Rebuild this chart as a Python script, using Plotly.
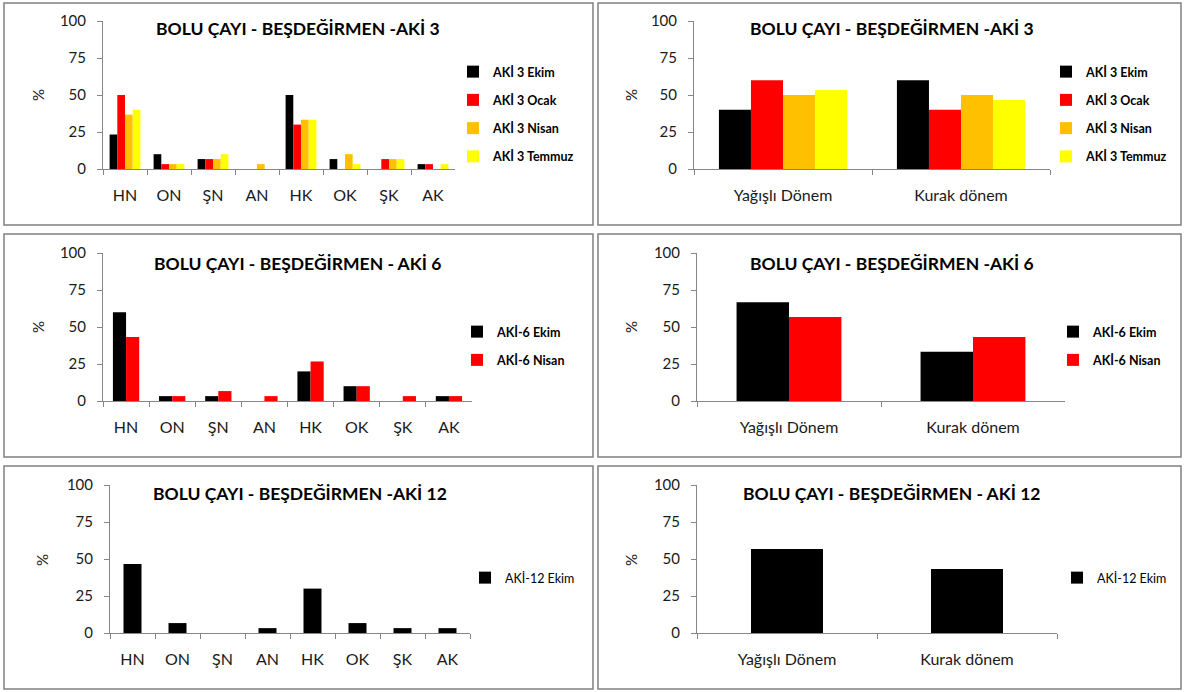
import plotly.graph_objects as go

# ---------------- data ----------------
cats_class = ["HN", "ON", "ŞN", "AN", "HK", "OK", "ŞK", "AK"]
cats_period = ["Yağışlı Dönem", "Kurak dönem"]
y_ticks = [0, 25, 50, 75, 100]

aki3_names = ["AKİ 3 Ekim", "AKİ 3 Ocak", "AKİ 3 Nisan", "AKİ 3 Temmuz"]
aki3_ekim = [23.3, 10, 6.7, 0, 50, 6.7, 0, 3.3]
aki3_ocak = [50, 3.3, 6.7, 0, 30, 0, 6.7, 3.3]
aki3_nisan = [36.7, 3.3, 6.7, 3.3, 33.3, 10, 6.7, 0]
aki3_temmuz = [40, 3.3, 10, 0, 33.3, 3.3, 6.7, 3.3]
aki3_period_ekim = [40, 60]
aki3_period_ocak = [60, 40]
aki3_period_nisan = [50, 50]
aki3_period_temmuz = [53.3, 46.7]

aki6_names = ["AKİ-6 Ekim", "AKİ-6 Nisan"]
aki6_ekim = [60, 3.3, 3.3, 0, 20, 10, 0, 3.3]
aki6_nisan = [43.3, 3.3, 6.7, 3.3, 26.7, 10, 3.3, 3.3]
aki6_period_ekim = [66.7, 33.3]
aki6_period_nisan = [56.7, 43.3]

aki12_names = ["AKİ-12 Ekim"]
aki12_ekim = [46.7, 6.7, 0, 3.3, 30, 6.7, 3.3, 3.3]
aki12_period_ekim = [56.7, 43.3]

titles = [
    "BOLU ÇAYI - BEŞDEĞİRMEN -AKİ 3",
    "BOLU ÇAYI - BEŞDEĞİRMEN -AKİ 3",
    "BOLU ÇAYI - BEŞDEĞİRMEN - AKİ 6",
    "BOLU ÇAYI - BEŞDEĞİRMEN -AKİ 6",
    "BOLU ÇAYI - BEŞDEĞİRMEN -AKİ 12",
    "BOLU ÇAYI - BEŞDEĞİRMEN - AKİ 12",
]

colors4 = ["#000000", "#FF0000", "#FFC000", "#FFFF00"]

# ---------------- layout geometry (pixels) ----------------
W, H = 1184, 692
FONT = "Lato, 'Liberation Sans', sans-serif"


def px(x):
    return x / W


def py(y):
    return 1 - y / H


panels = [
    dict(cats=cats_class, names=aki3_names,
         series=[aki3_ekim, aki3_ocak, aki3_nisan, aki3_temmuz],
         box=(4, 3, 593, 225), plot=(103, 21, 455, 169), gap=0.3,
         title_xy=(298, 29), pct_xy=(38, 95), leg_xy=(493, 70), leg_w="bold"),
    dict(cats=cats_period, names=aki3_names,
         series=[aki3_period_ekim, aki3_period_ocak, aki3_period_nisan, aki3_period_temmuz],
         box=(598, 3, 1181, 225), plot=(694, 21, 1050, 169), gap=0.28,
         title_xy=(892, 29), pct_xy=(631, 95), leg_xy=(1086, 70), leg_w="bold"),
    dict(cats=cats_class, names=aki6_names,
         series=[aki6_ekim, aki6_nisan],
         box=(4, 234, 593, 457), plot=(103, 253, 472, 401), gap=0.43,
         title_xy=(297, 263), pct_xy=(38, 327), leg_xy=(497, 330), leg_w="bold"),
    dict(cats=cats_period, names=aki6_names,
         series=[aki6_period_ekim, aki6_period_nisan],
         box=(598, 234, 1181, 457), plot=(697, 253, 1065, 401), gap=0.43,
         title_xy=(892, 263), pct_xy=(631, 327), leg_xy=(1093, 330), leg_w="bold"),
    dict(cats=cats_class, names=aki12_names,
         series=[aki12_ekim],
         box=(4, 466, 593, 689), plot=(110, 485, 470, 633), gap=0.6,
         title_xy=(300, 493), pct_xy=(42, 560), leg_xy=(505, 576), leg_w="normal"),
    dict(cats=cats_period, names=aki12_names,
         series=[aki12_period_ekim],
         box=(598, 466, 1181, 689), plot=(697, 485, 1057, 633), gap=0.6,
         title_xy=(891, 493), pct_xy=(631, 560), leg_xy=(1097, 576), leg_w="normal"),
]

fig = go.Figure()
layout = dict(
    width=W, height=H, margin=dict(l=0, r=0, t=0, b=0, autoexpand=False),
    paper_bgcolor="white", plot_bgcolor="white",
    font=dict(family=FONT, color="#1a1a1a"),
    showlegend=True, barmode="group",
)
shapes, annotations = [], []

for i, p in enumerate(panels, start=1):
    sfx = "" if i == 1 else str(i)
    n = len(p["series"])
    group = 1 - p["gap"]
    bw = group / n
    leg_name = "legend" + sfx
    for j, (name, vals) in enumerate(zip(p["names"], p["series"])):
        fig.add_trace(go.Bar(
            x=p["cats"], y=vals, name=name,
            marker=dict(color=colors4[j], line=dict(width=0)),
            width=bw, offset=-group / 2 + j * bw,
            xaxis="x" + sfx, yaxis="y" + sfx,
            legend=leg_name, legendgroup=f"g{i}_{j}",
            hovertemplate="%{x}: %{y}<extra>" + name + "</extra>",
        ))
    x0, y0, x1, y1 = p["plot"]
    layout["xaxis" + sfx] = dict(
        domain=[px(x0), px(x1)], anchor="y" + sfx,
        range=[-0.5, len(p["cats"]) - 0.5], type="category",
        showline=True, linecolor="#868686", linewidth=1,
        ticks="outside", tickson="boundaries", ticklen=5, tickcolor="#868686",
        tickfont=dict(size=16, family=FONT, color="#1a1a1a"),
        ticklabelstandoff=12, showgrid=False, zeroline=False, fixedrange=True,
    )
    layout["yaxis" + sfx] = dict(
        domain=[py(y1), py(y0)], anchor="x" + sfx,
        range=[0, 100], tickvals=y_ticks,
        showline=True, linecolor="#868686", linewidth=1,
        ticks="outside", ticklen=5, tickcolor="#868686",
        tickfont=dict(size=15, family=FONT, color="#1a1a1a"),
        ticklabelstandoff=8, showgrid=False, zeroline=False, fixedrange=True,
    )
    lx, ly = p["leg_xy"]
    layout[leg_name] = dict(
        x=px(lx - 40), y=py(ly - 13), xanchor="left", yanchor="top",
        bgcolor="rgba(0,0,0,0)", borderwidth=0,
        font=dict(size=12.5, family=FONT, color="#000000", weight=p["leg_w"]),
        tracegroupgap=9, traceorder="grouped", itemclick=False,
    )
    bx0, by0, bx1, by1 = p["box"]
    shapes.append(dict(type="rect", xref="paper", yref="paper",
                       x0=px(bx0), x1=px(bx1), y0=py(by1), y1=py(by0),
                       line=dict(color="#808080", width=1.5), layer="below"))
    tx, ty = p["title_xy"]
    annotations.append(dict(text="<b>" + titles[i - 1] + "</b>", x=px(tx), y=py(ty),
                            xref="paper", yref="paper", xanchor="center", yanchor="middle",
                            showarrow=False, font=dict(size=17.5, family=FONT, color="#000000")))
    cx, cy = p["pct_xy"]
    annotations.append(dict(text="%", x=px(cx), y=py(cy), xref="paper", yref="paper",
                            xanchor="center", yanchor="middle", textangle=-90,
                            showarrow=False, font=dict(size=15, family=FONT, color="#1a1a1a")))

layout["shapes"] = shapes
layout["annotations"] = annotations
fig.update_layout(**layout)
fig.write_html("out.html", config={"displayModeBar": False})
